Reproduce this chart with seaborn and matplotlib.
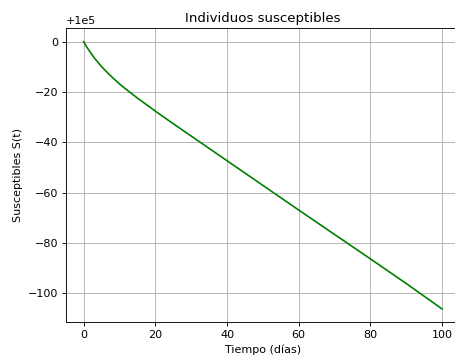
import numpy as np
import matplotlib
matplotlib.use("Agg")
import matplotlib.pyplot as plt
import seaborn as sns

# Values (offset from 1e5)
tiempo = [0, 1, 2, 3, 4, 5, 6, 8, 10, 12, 15, 20, 25, 30, 40, 50, 60, 70, 80, 90, 100]
delta_s = [0, -2.4, -4.5, -6.5, -8.2, -9.9, -11.4, -14.2, -16.8, -19.1, -22.4, -27.6,
           -32.6, -37.5, -47.3, -57.1, -66.9, -76.6, -86.3, -96.1, -106.2]
base = 1e5
susceptibles = [base + d for d in delta_s]

# reference looks like a default matplotlib figure scaled down ~0.8
s = 0.8
plt.rcParams.update({
    'font.size': 10 * s,
    'axes.titlesize': 12 * s,
    'axes.linewidth': 0.8 * s,
    'grid.linewidth': 0.8 * s,
    'xtick.major.size': 3.5 * s,
    'ytick.major.size': 3.5 * s,
    'xtick.major.width': 0.8 * s,
    'ytick.major.width': 0.8 * s,
    'axes.titlepad': 6 * s,
    'axes.labelpad': 4 * s,
    'xtick.major.pad': 3.5 * s,
    'ytick.major.pad': 3.5 * s,
})

fig = plt.figure(figsize=(4.56, 3.61), dpi=100)
ax = fig.add_axes([65.7 / 456, (361 - 322.3) / 361, (460 - 65.7) / 456, (322.3 - 28.3) / 361])

sns.lineplot(x=tiempo, y=susceptibles, color='g', linewidth=1.5 * s, ax=ax)

ax.set_title('Individuos susceptibles')
ax.set_xlabel('Tiempo (días)')
ax.set_ylabel('Susceptibles S(t)')
ax.grid(True)

fig.savefig('out.png', dpi=100)
